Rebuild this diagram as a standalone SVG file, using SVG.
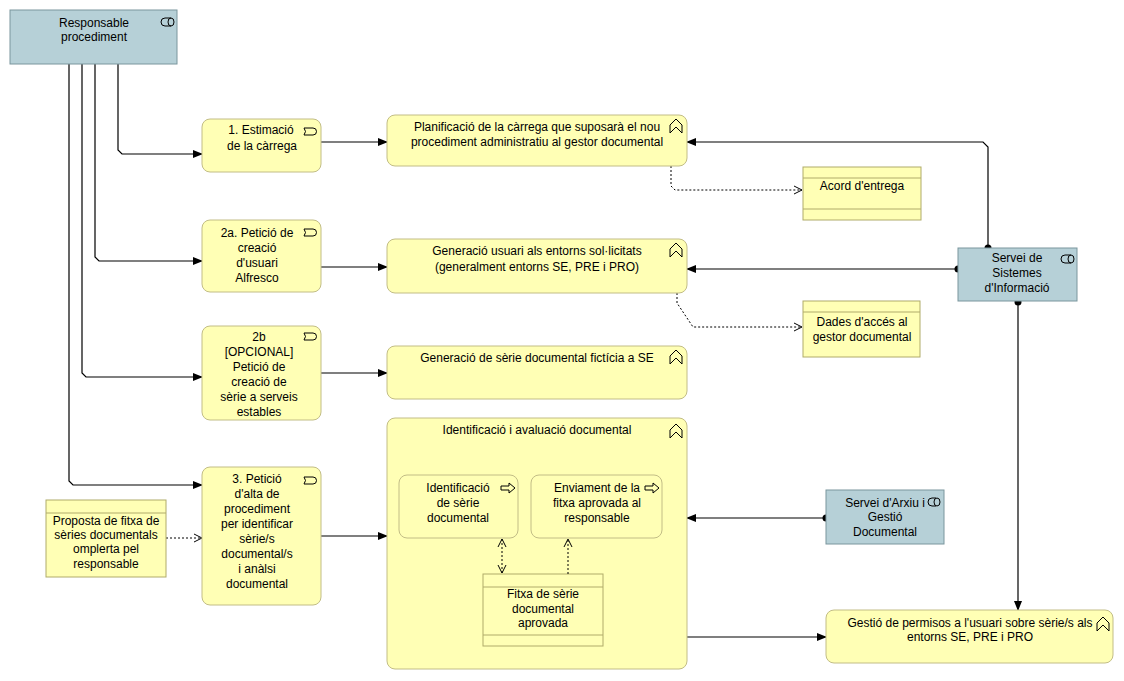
<svg xmlns="http://www.w3.org/2000/svg" width="1124" height="681" viewBox="0 0 1124 681">
<defs>
<marker id="arr" markerWidth="10" markerHeight="8" refX="9" refY="4" orient="auto" markerUnits="userSpaceOnUse"><path d="M0,0 L10,4 L0,8 Z" fill="#000"/></marker>
<marker id="open" markerWidth="10" markerHeight="10" refX="9" refY="5" orient="auto-start-reverse" markerUnits="userSpaceOnUse"><path d="M1,1 L9,5 L1,9" fill="none" stroke="#000" stroke-width="1"/></marker>
</defs>
<style>
text{font-family:"Liberation Sans",Arial,sans-serif;font-size:12px;fill:#000;text-anchor:middle}
.y{fill:#ffffb5;stroke:#c2bd86;stroke-width:1}
.b{fill:#b6d0d7;stroke:#7a969d;stroke-width:1}
.o{fill:#ffffb5;stroke:#b0ab6a;stroke-width:1}
.ic{fill:none;stroke:#000;stroke-width:1}
.c{fill:none;stroke:#000;stroke-width:1.2}
.d{fill:none;stroke:#000;stroke-width:1;stroke-dasharray:2,2}
</style>
<rect width="1124" height="681" fill="#fff"/>
<g id="connectors">
<path class="c" d="M118,64 V150 L122,154 H202" marker-end="url(#arr)"/>
<path class="c" d="M95,64 V257 L99,261 H202" marker-end="url(#arr)"/>
<path class="c" d="M82,64 V373 L86,377 H202" marker-end="url(#arr)"/>
<path class="c" d="M69,64 V481 L73,485 H202" marker-end="url(#arr)"/>
<path class="c" d="M321,142 H387" marker-end="url(#arr)"/>
<path class="c" d="M988,248 V147 L983,142 H687" marker-end="url(#arr)"/>
<circle cx="988" cy="248" r="3.5"/>
<path class="d" d="M671,166 V186 L675,190 H802" marker-end="url(#open)"/>
<path class="c" d="M321,267 H387" marker-end="url(#arr)"/>
<path class="c" d="M958,269 H687" marker-end="url(#arr)"/>
<circle cx="958" cy="269" r="3.5"/>
<path class="d" d="M677,293 V303 L693,327 H802" marker-end="url(#open)"/>
<path class="c" d="M321,373 H387" marker-end="url(#arr)"/>
<path class="c" d="M321,536 H387" marker-end="url(#arr)"/>
<path class="c" d="M826,518 H687" marker-end="url(#arr)"/>
<circle cx="826" cy="518" r="3.5"/>
<path class="c" d="M687,637 H826" marker-end="url(#arr)"/>
<path class="c" d="M1018,302 V610" marker-end="url(#arr)"/>
<circle cx="1018" cy="302" r="3.5"/>
<path class="d" d="M166,538 H202" marker-end="url(#open)"/>
</g>
<g id="resp">
<rect class="b" x="10" y="10" width="167" height="54"/>
<text x="94" y="27">Responsable</text>
<text x="94" y="41">procediment</text>
<path class="ic" d="M171,18 H165 A4,4 0 0 0 165,26 H171"/><ellipse class="ic" cx="171" cy="22" rx="3" ry="4"/>
</g>
<g id="n1">
<rect class="y" x="202" y="119" width="119" height="53" rx="8"/>
<text x="261" y="134">1. Estimació</text>
<text x="262" y="150">de la càrrega</text>
<path class="ic" d="M304,128 H313 A3.5,3.5 0 0 1 313,135 H304 Q307,131.5 304,128"/>
</g>
<g id="plan">
<rect class="y" x="387" y="115" width="300" height="51" rx="8"/>
<text x="537" y="131">Planificació de la càrrega que suposarà el nou</text>
<text x="537" y="146">procediment administratiu al gestor documental</text>
<path class="ic" d="M670,133 V125 L676,119 L682,125 V133 L676,127 Z"/>
</g>
<g id="acord">
<rect class="o" x="803" y="167" width="118" height="53"/>
<line class="o" x1="803" y1="178" x2="921" y2="178"/>
<line class="o" x1="803" y1="209" x2="921" y2="209"/>
<text x="862" y="190">Acord d'entrega</text>
</g>
<g id="n2a">
<rect class="y" x="202" y="220" width="119" height="72" rx="8"/>
<text x="257" y="237">2a. Petició de</text>
<text x="257" y="252">creació</text>
<text x="257" y="267">d'usuari</text>
<text x="257" y="282">Alfresco</text>
<path class="ic" d="M304,229 H313 A3.5,3.5 0 0 1 313,236 H304 Q307,232.5 304,229"/>
</g>
<g id="genusuari">
<rect class="y" x="387" y="239" width="300" height="54" rx="8"/>
<text x="537" y="255">Generació usuari als entorns sol·licitats</text>
<text x="537" y="271">(generalment entorns SE, PRE i PRO)</text>
<path class="ic" d="M670,257 V249 L676,243 L682,249 V257 L676,251 Z"/>
</g>
<g id="ssi">
<rect class="b" x="958" y="248" width="119" height="53"/>
<text x="1017" y="262">Servei de</text>
<text x="1017" y="277">Sistemes</text>
<text x="1017" y="292">d'Informació</text>
<path class="ic" d="M1071,255 H1065 A4,4 0 0 0 1065,263 H1071"/><ellipse class="ic" cx="1071" cy="259" rx="3" ry="4"/>
</g>
<g id="dades">
<rect class="o" x="803" y="301" width="117" height="56"/>
<line class="o" x1="803" y1="312" x2="920" y2="312"/>
<text x="862" y="326">Dades d'accés al</text>
<text x="862" y="341">gestor documental</text>
</g>
<g id="n2b">
<rect class="y" x="202" y="326" width="119" height="94" rx="8"/>
<text x="259" y="341">2b</text>
<text x="259" y="356">[OPCIONAL]</text>
<text x="259" y="371">Petició de</text>
<text x="259" y="386">creació de</text>
<text x="259" y="401">sèrie a serveis</text>
<text x="259" y="416">estables</text>
<path class="ic" d="M304,333 H313 A3.5,3.5 0 0 1 313,340 H304 Q307,336.5 304,333"/>
</g>
<g id="genserie">
<rect class="y" x="387" y="346" width="300" height="53" rx="8"/>
<text x="537" y="362">Generació de sèrie documental fictícia a SE</text>
<path class="ic" d="M670,364 V356 L676,350 L682,356 V364 L676,358 Z"/>
</g>
<g id="ident">
<rect class="y" x="387" y="418" width="300" height="251" rx="8"/>
<text x="537" y="434">Identificació i avaluació documental</text>
<path class="ic" d="M670,438 V430 L676,424 L682,430 V438 L676,432 Z"/>
</g>
<g id="identserie">
<rect class="y" x="399" y="475" width="119" height="63" rx="8"/>
<text x="458" y="492">Identificació</text>
<text x="458" y="507">de sèrie</text>
<text x="458" y="522">documental</text>
<path class="ic" d="M501,486 H509 V483 L515,488 L509,493 V490 H501 Z"/>
</g>
<g id="enviament">
<rect class="y" x="531" y="475" width="131" height="63" rx="8"/>
<text x="597" y="492">Enviament de la</text>
<text x="597" y="507">fitxa aprovada al</text>
<text x="597" y="522">responsable</text>
<path class="ic" d="M645,486 H653 V483 L659,488 L653,493 V490 H645 Z"/>
</g>
<g id="fitxa">
<rect class="o" x="483" y="574" width="120" height="72"/>
<line class="o" x1="483" y1="587" x2="603" y2="587"/>
<line class="o" x1="483" y1="635" x2="603" y2="635"/>
<text x="543" y="598">Fitxa de sèrie</text>
<text x="543" y="613">documental</text>
<text x="543" y="627">aprovada</text>
</g>
<g id="inner-connectors">
<path class="d" d="M502,539 V573" marker-start="url(#open)" marker-end="url(#open)"/>
<path class="d" d="M568,574 V539" marker-end="url(#open)"/>
</g>
<g id="n3">
<rect class="y" x="202" y="467" width="119" height="138" rx="8"/>
<text x="257" y="483">3. Petició</text>
<text x="257" y="498">d'alta de</text>
<text x="257" y="513">procediment</text>
<text x="257" y="528">per identificar</text>
<text x="257" y="543">sèrie/s</text>
<text x="257" y="558">documental/s</text>
<text x="257" y="573">i anàlsi</text>
<text x="257" y="588">documental</text>
<path class="ic" d="M304,477 H313 A3.5,3.5 0 0 1 313,484 H304 Q307,480.5 304,477"/>
</g>
<g id="proposta">
<rect class="o" x="46" y="500" width="120" height="77"/>
<line class="o" x1="46" y1="513" x2="166" y2="513"/>
<text x="106" y="525">Proposta de fitxa de</text>
<text x="106" y="539">sèries documentals</text>
<text x="106" y="553">omplerta pel</text>
<text x="106" y="568">responsable</text>
</g>
<g id="arxiu">
<rect class="b" x="826" y="490" width="118" height="54"/>
<text x="885" y="507">Servei d'Arxiu i</text>
<text x="885" y="521">Gestió</text>
<text x="885" y="536">Documental</text>
<path class="ic" d="M936,498 H932 A4,4 0 0 0 932,506 H936"/><ellipse class="ic" cx="937" cy="502" rx="3" ry="4"/>
</g>
<g id="permisos">
<rect class="y" x="826" y="610" width="287" height="53" rx="8"/>
<text x="970" y="627">Gestió de permisos a l'usuari sobre sèrie/s als</text>
<text x="970" y="641">entorns SE, PRE i PRO</text>
<path class="ic" d="M1097,631 V623 L1103,617 L1109,623 V631 L1103,625 Z"/>
</g>
</svg>
